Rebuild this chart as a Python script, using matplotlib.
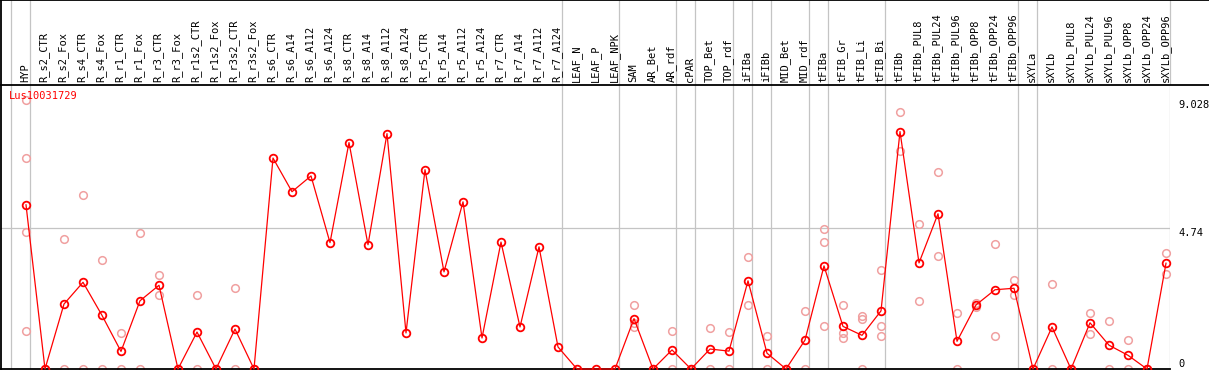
import matplotlib
matplotlib.use("Agg")
import matplotlib.pyplot as plt

#sample names along the top
labels = ["HYP", "R_s2_CTR", "R_s2_Fox", "R_s4_CTR", "R_s4_Fox", "R_r1_CTR", "R_r1_Fox",
          "R_r3_CTR", "R_r3_Fox", "R_r1s2_CTR", "R_r1s2_Fox", "R_r3s2_CTR", "R_r3s2_Fox",
          "R_s6_CTR", "R_s6_A14", "R_s6_A112", "R_s6_A124", "R_s8_CTR", "R_s8_A14",
          "R_s8_A112", "R_s8_A124", "R_r5_CTR", "R_r5_A14", "R_r5_A112", "R_r5_A124",
          "R_r7_CTR", "R_r7_A14", "R_r7_A112", "R_r7_A124", "LEAF_N", "LEAF_P", "LEAF_NPK",
          "SAM", "AR_Bet", "AR_rdf", "cPAR", "TOP_Bet", "TOP_rdf", "iFIBa", "iFIBb",
          "MID_Bet", "MID_rdf", "tFIBa", "tFIB_Gr", "tFIB_Li", "tFIB_Bi", "tFIBb",
          "tFIBb_PUL8", "tFIBb_PUL24", "tFIBb_PUL96", "tFIBb_OPP8", "tFIBb_OPP24",
          "tFIBb_OPP96", "sXYLa", "sXYLb", "sXYLb_PUL8", "sXYLb_PUL24", "sXYLb_PUL96",
          "sXYLb_OPP8", "sXYLb_OPP24", "sXYLb_OPP96"]

#mean expression per sample (red line)
means = [5.51, 0, 2.18, 2.91, 1.80, 0.59, 2.29, 2.81, 0, 1.24, 0, 1.34, 0,
         7.08, 5.95, 6.48, 4.24, 7.60, 4.17, 7.90, 1.21, 6.69, 3.26, 5.61, 1.04,
         4.26, 1.41, 4.10, 0.74, 0, 0, 0,
         1.69, 0, 0.64, 0, 0.67, 0.60, 2.96, 0.53, 0, 0.97,
         3.46, 1.43, 1.13, 1.95, 7.97, 3.56, 5.21, 0.93, 2.15, 2.66, 2.71,
         0, 1.41, 0, 1.55, 0.80, 0.46, 0, 3.55]

#single replicates (faint circles)
reps = [[9.028, 7.08, 4.59, 1.28], [0, 0], [4.37, 0], [5.84, 0], [3.65, 0], [1.20, 0],
        [4.56, 0], [3.16, 2.48], [0, 0], [2.48, 0], [0, 0], [2.71, 0], [0, 0],
        [], [], [], [], [], [], [], [], [], [], [], [],
        [], [], [], [], [], [], [],
        [2.14, 1.40, 1.53], [0, 0], [1.28, 0], [0, 0], [1.38, 0], [1.24, 0],
        [3.75, 2.14], [1.10, 0], [0, 0], [1.94, 0],
        [4.69, 4.26, 1.43], [2.15, 1.20, 1.03], [1.78, 1.68, 0], [3.32, 1.43, 1.10],
        [8.63, 7.32], [4.86, 2.29], [6.62, 3.80], [1.88, 0], [2.22, 2.08],
        [4.20, 1.10], [2.98, 2.48],
        [0, 0], [2.86, 0], [0, 0], [1.88, 1.17], [1.61, 0], [0.96, 0], [0, 0], [3.89, 3.18]]

#group separators come right after these sample indices
breaks = [-1, 0, 28, 31, 34, 35, 37, 38, 39, 41, 42, 45, 52, 53, 60]

ymax = 9.028
yticks = [0, 4.74, 9.028]

W, H = 1209, 370
fig = plt.figure(figsize=(W / 100, H / 100), dpi=100)
ax = fig.add_axes([1 / W, 1 / H, 1169 / W, 284 / H])
hdr = fig.add_axes([1 / W, 285 / H, 1208 / W, 85 / H])

x0 = -25 / 19
ax.set_xlim(x0, x0 + 1169 / 19)
hdr.set_xlim(x0, x0 + 1208 / 19)
ax.set_ylim(0, ymax * 284 / 269)
hdr.set_ylim(0, 1)

for a in (ax, hdr):
    a.set_xticks([])
    a.set_yticks([])
    a.spines["right"].set_visible(False)
    for s in a.spines.values():
        s.set_color("black")
        s.set_linewidth(1.3)
ax.spines["top"].set_visible(False)

grey = "#c4c4c4"
for b in breaks:
    ax.axvline(b + 0.2, color=grey, lw=0.9, zorder=0)
    hdr.axvline(b + 0.2, color=grey, lw=0.9, zorder=0)
ax.axhline(4.74, color=grey, lw=0.9, zorder=0)

mono = "DejaVu Sans Mono"

#replicates behind, means on top
rx, ry = [], []
for i, r in enumerate(reps):
    for v in r:
        rx.append(i)
        ry.append(v)
ax.plot(rx, ry, ls="none", marker="o", mfc="none", mec="#f0a0a0", ms=5.5, mew=1.1,
        clip_on=False, zorder=2)
ax.plot(range(len(means)), means, color="red", lw=0.9, marker="o", mfc="none",
        mec="red", ms=5.5, mew=1.3, clip_on=False, zorder=3)

for i, lab in enumerate(labels):
    hdr.text(i - 0.05, 0.03, lab, rotation=90, ha="center", va="bottom",
             transform=hdr.get_xaxis_transform(), fontsize=7.5, family=mono)

ax.text(0.007, 0.978, "Lus10031729", color="red", transform=ax.transAxes,
        va="top", ha="left", fontsize=7.5, family=mono)

tr = ax.get_yaxis_transform()
for v in yticks:
    txt = f"{v:g}"
    ax.text(1.007, v, txt, transform=tr, ha="left", va="bottom" if v == 0 else "top",
            fontsize=7.5, family=mono, clip_on=False)

fig.savefig("out.png", dpi=100)
